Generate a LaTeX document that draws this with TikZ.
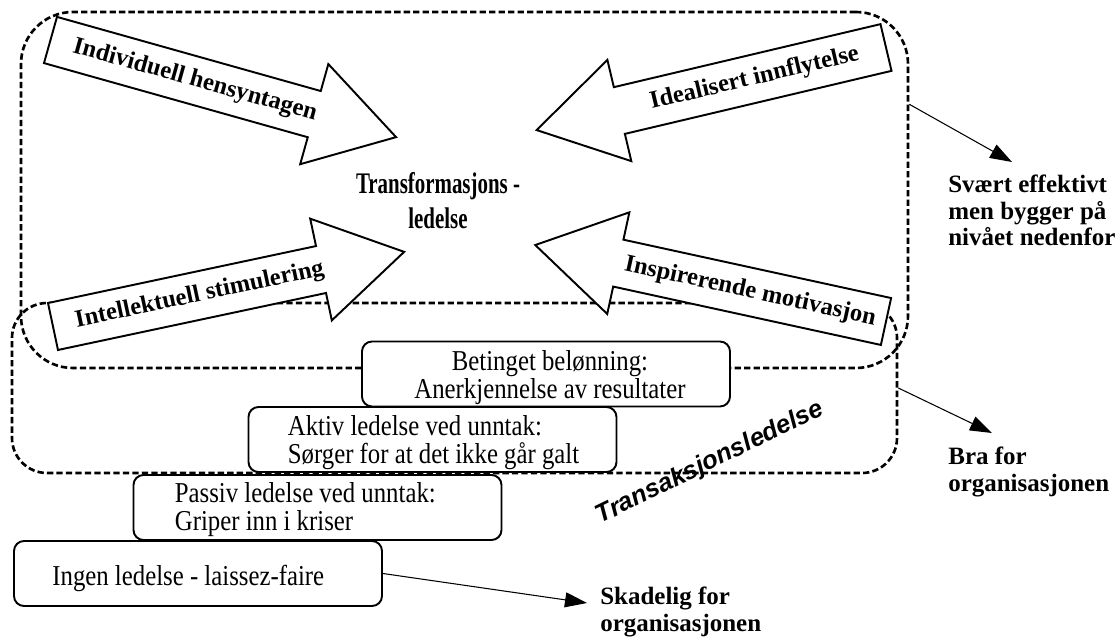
\documentclass[tikz,border=0pt]{standalone}
\usepackage{fontspec}
\setmainfont{Liberation Serif}
\setsansfont{Liberation Sans}
\newfontfamily\condfont{Liberation Serif}[FakeStretch=0.86]
\newfontfamily\titlefont{Liberation Serif}[FakeStretch=0.7]
\usepackage{tikz}
\usetikzlibrary{positioning, arrows.meta, calc}

% block arrow: name, tail, direction, text angle, text position, text
\newcommand{\blockarrow}[6]{%
  \begin{scope}[shift={#2}, rotate=#3]
    \draw[blockarrow] (0,0.48) -- (5.48,0.48) -- (5.48,1.04) -- (7.18,0)
      -- (5.48,-1.04) -- (5.48,-0.48) -- (0,-0.48) -- cycle;
    \node[arrowtext, rotate=#4] (#1) at (#5,0) {#6};
  \end{scope}}

\begin{document}
\begin{tikzpicture}[
    dashbox/.style={draw, line width=1.5pt, dash pattern=on 3.6pt off 1.8pt, inner sep=0pt},
    blockarrow/.style={draw=black, fill=white, line width=1.1pt, line join=miter},
    arrowtext/.style={font=\bfseries\fontsize{14}{16}\selectfont, inner sep=0pt},
    title/.style={font=\titlefont\bfseries\fontsize{17}{19.8}\selectfont, align=center},
    stepbox/.style={rectangle, draw=black, fill=white, line width=1.1pt, rounded corners=0.2cm,
                    minimum width=7.36cm, minimum height=1.3cm, inner sep=0pt},
    steptext/.style={font=\condfont\fontsize{16.4}{16}\selectfont, align=left, inner sep=0pt},
    result/.style={font=\bfseries\fontsize{14.2}{15}\selectfont, align=left, inner sep=0pt, anchor=north west},
    arrow/.style={-{Triangle[length=0.44cm, width=0.3cm]}, line width=0.6pt}
]

    \useasboundingbox (0,0) rectangle (22.34,12.72);

    % Dashed areas
    \node[dashbox, rounded corners=1.04cm, minimum width=17.74cm, minimum height=7.12cm] (transform) at (9.29, 8.92) {};
    \node[dashbox, rounded corners=0.7cm, minimum width=17.70cm, minimum height=3.40cm] (transaks) at (9.09, 4.96) {};

    % Four block arrows
    \blockarrow{indiv}{(1.01,11.92)}{-15.7}{-15.7}{3.0}{Individuell hensyntagen}
    \blockarrow{ideal}{(17.72,11.77)}{193.3}{13.3}{2.7}{Idealisert innflytelse}
    \blockarrow{intel}{(1.06,6.19)}{12}{12}{3.0}{Intellektuell stimulering}
    \blockarrow{inspir}{(17.72,6.29)}{167.7}{-12.3}{2.78}{Inspirerende motivasjon}

    % Centre text
    \node[title] (centre) at (8.76, 8.70) {Transformasjons -\\ledelse};

    % Staircase
    \node[stepbox] (betinget) at (10.92, 5.24) {};
    \node[steptext, align=center, xshift=0.08cm, yshift=-0.08cm] (betingettext) at (betinget) {Betinget belønning:\\Anerkjennelse av resultater};
    \node[stepbox] (aktiv) at (8.65, 3.93) {};
    \node[steptext, right=0.8cm of aktiv.west, yshift=-0.06cm] (aktivtext) {Aktiv ledelse ved unntak:\\Sørger for at det ikke går galt};
    \node[stepbox] (passiv) at (6.35, 2.57) {};
    \node[steptext, right=0.84cm of passiv.west, yshift=-0.04cm] (passivtext) {Passiv ledelse ved unntak:\\Griper inn i kriser};
    \node[stepbox] (ingen) at (3.96, 1.25) {};
    \node[steptext, right=0.78cm of ingen.west, yshift=-0.1cm] (ingentext) {Ingen ledelse - laissez-faire};

    % Rotated label
    \node[font=\sffamily\bfseries\itshape\fontsize{14.5}{17}\selectfont, rotate=26] (transtext) at (14.2, 3.46) {Transaksjonsledelse};

    % Results
    \node[result] (svaert) at (18.96, 9.22) {Svært effektivt\\men bygger på\\nivået nedenfor};
    \node[result] (bra) at (18.96, 3.78) {Bra for\\organisasjonen};
    \node[result] (skadelig) at (12.0, 0.98) {Skadelig for\\organisasjonen};

    % Arrows
    \draw[arrow] ($(transform.north east)!0.261!(transform.south east)$) -- ([xshift=1.28cm, yshift=0.26cm]svaert.north west);
    \draw[arrow] (transaks.east) -- ([xshift=0.88cm, yshift=0.28cm]bra.north west);
    \draw[arrow] (ingen.east) -- ([xshift=-0.26cm, yshift=-0.32cm]skadelig.north west);

\end{tikzpicture}
\end{document}
